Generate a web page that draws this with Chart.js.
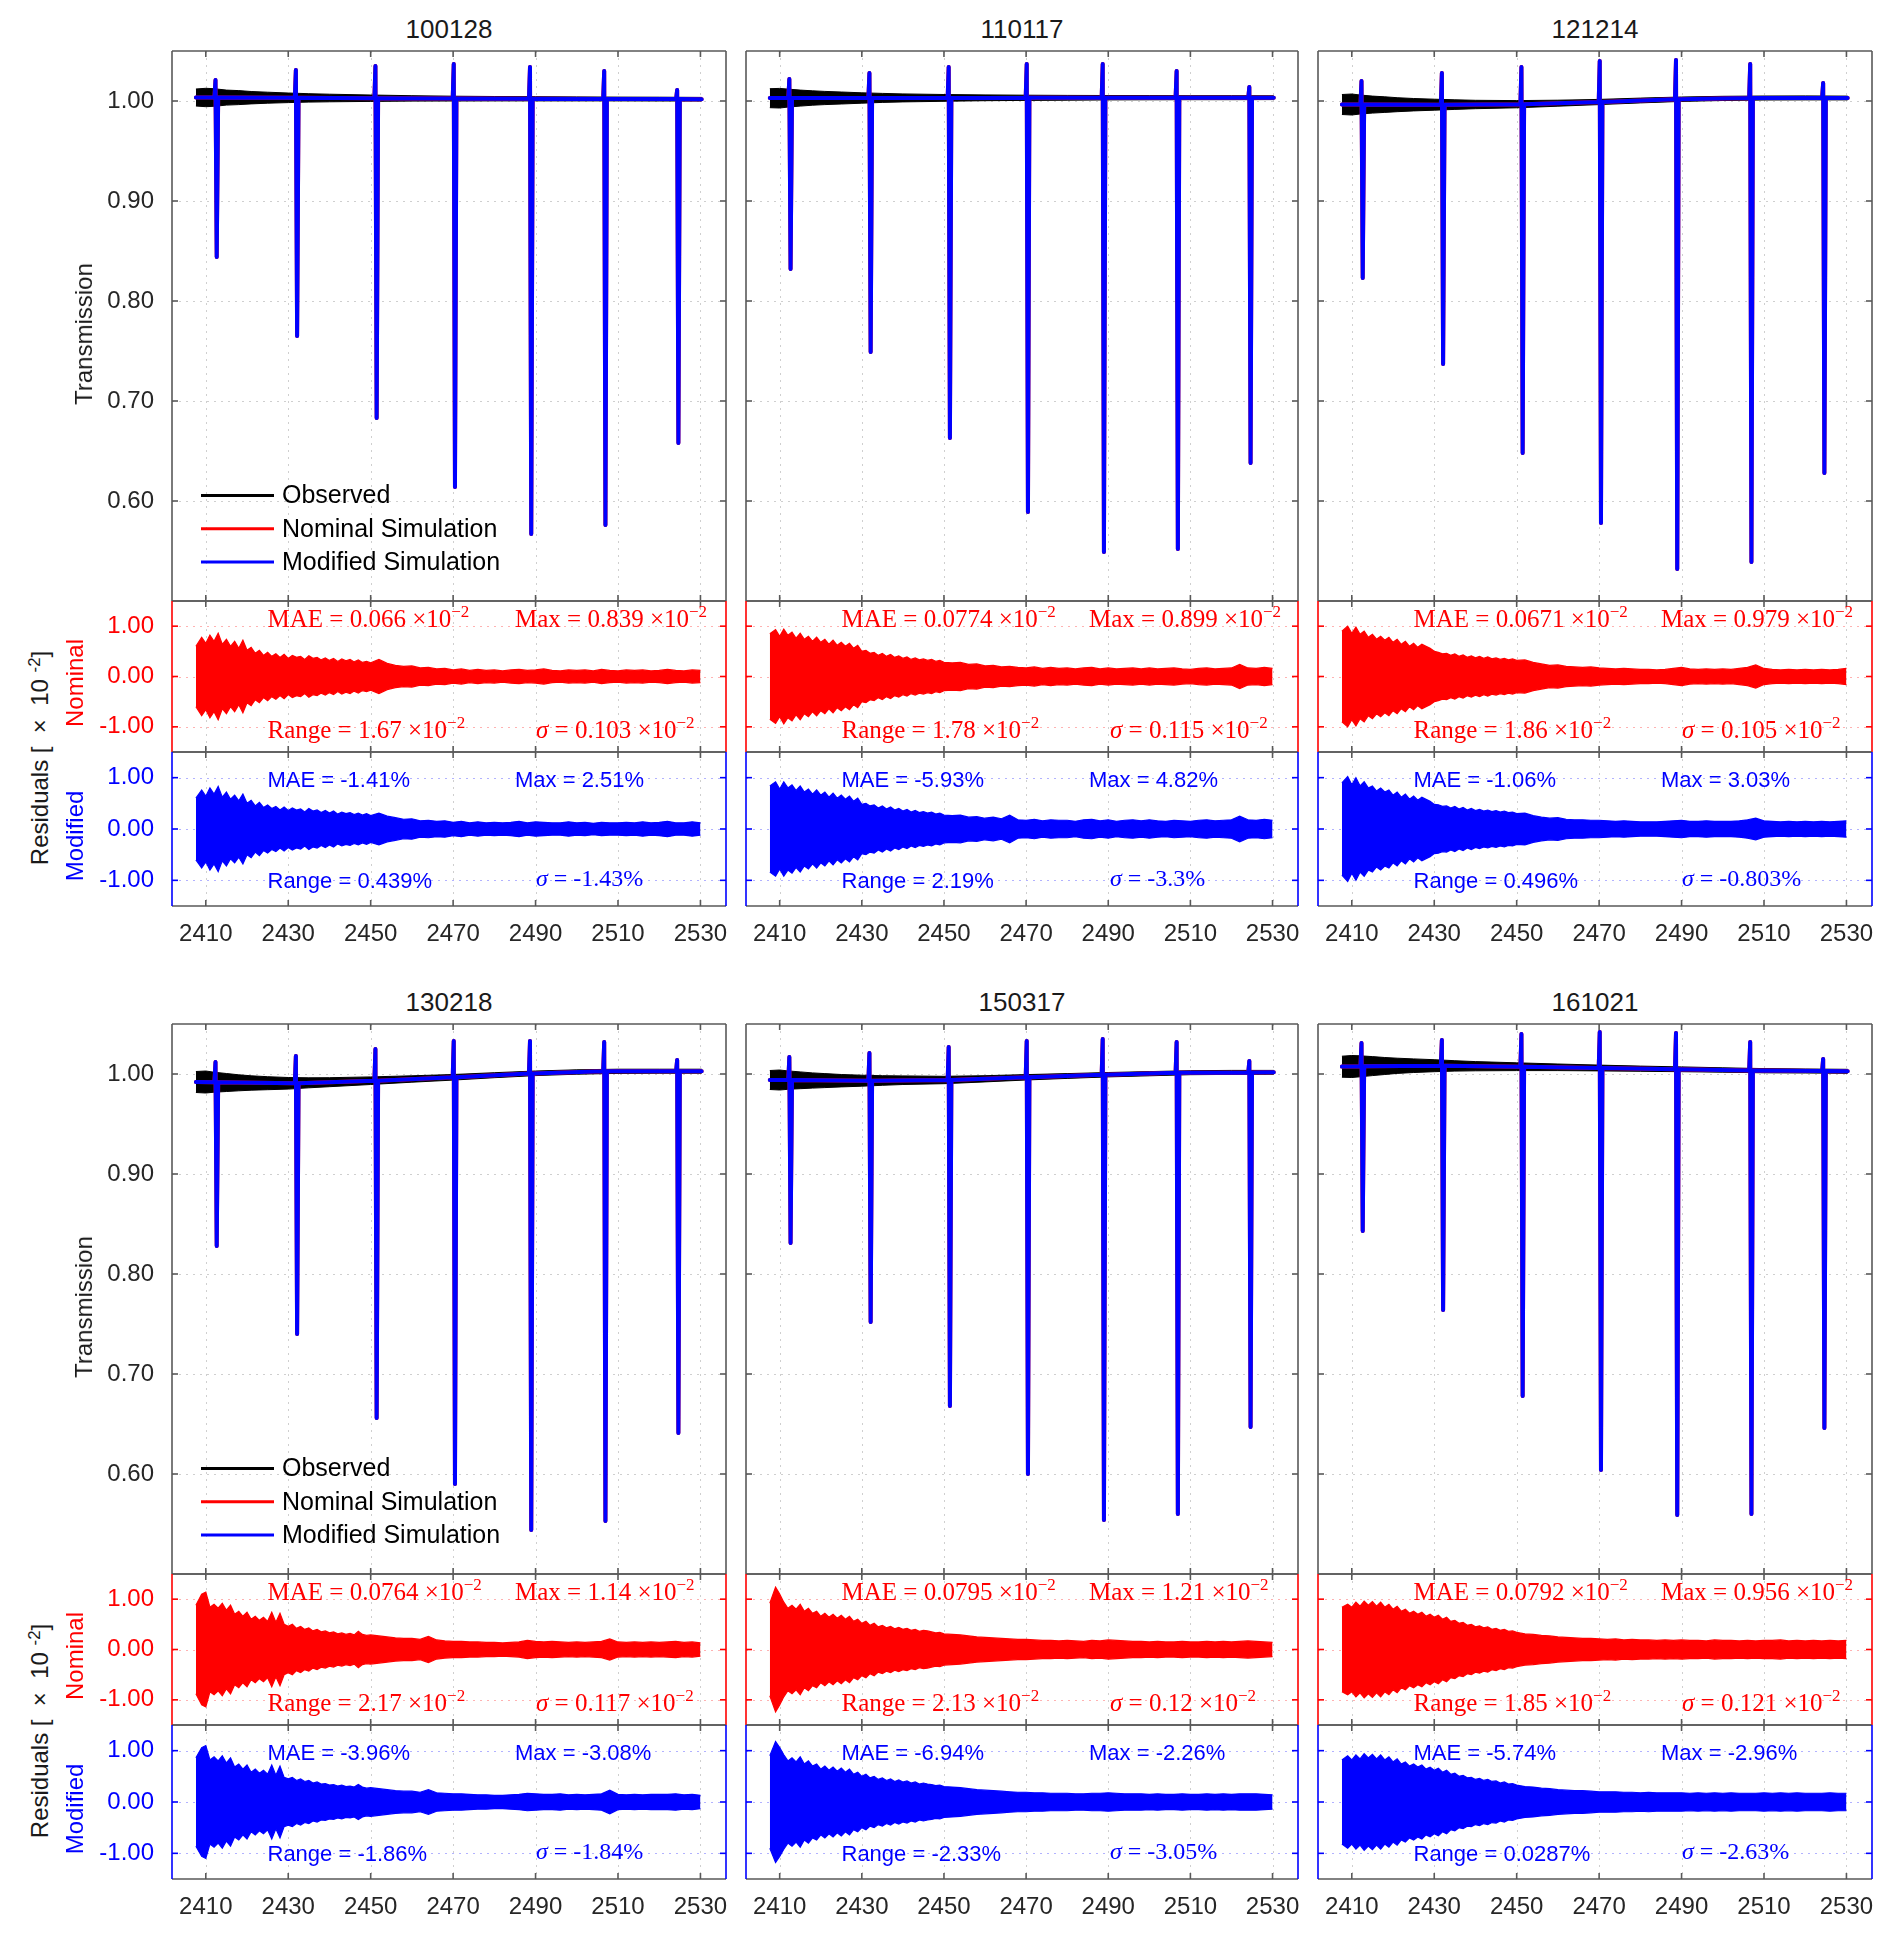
<!DOCTYPE html>
<html>
<head>
<meta charset="utf-8">
<script src="https://cdn.jsdelivr.net/npm/chart.js@4.4.1/dist/chart.umd.min.js"></script>
<style>
  html, body { margin: 0; padding: 0; background: #fff; }
  body { width: 1892px; height: 1933px; position: relative; overflow: hidden; font-family: "Liberation Sans", Arial, sans-serif; }
  canvas { position: absolute; }
  .lbl { position: absolute; white-space: pre; line-height: 1; color: #1a1a1a; transform: translate(-50%, -50%); }
  .lbl sup { font-size: 70%; vertical-align: 0.5em; line-height: 0; }
</style>
</head>
<body>
<script>
// ---- data ----
const panelIds = ['100128', '110117', '121214', '130218', '150317', '161021'];
const xTicks = [2410, 2430, 2450, 2470, 2490, 2510, 2530];
const transTicks = [0.6, 0.7, 0.8, 0.9, 1.0];
const resTicks = [-1, 0, 1];
const legendOrder = ['Observed', 'Nominal Simulation', 'Modified Simulation'];

// absorption line centres (same in every panel)
const lineX = [2412.7, 2432.2, 2451.5, 2470.5, 2489, 2507, 2524.7];
const simKnotX = [2407.6, ...lineX, 2530.3];

// observed band sampling
const obsX = [2407.6, 2410, 2412, 2415, 2418, 2421, 2425, 2430, 2435, 2440, 2450, 2460, 2470, 2480, 2490, 2500, 2510, 2520, 2530.3];

// residual sampling: 1 unit up to 2450, 2 units after
const resX = [2407.6,
  2409, 2410, 2411, 2412, 2413, 2414, 2415, 2416, 2417, 2418, 2419, 2420, 2421, 2422, 2423, 2424, 2425, 2426, 2427, 2428, 2429,
  2430, 2431, 2432, 2433, 2434, 2435, 2436, 2437, 2438, 2439, 2440, 2441, 2442, 2443, 2444, 2445, 2446, 2447, 2448, 2449, 2450,
  2452, 2454, 2456, 2458, 2460, 2462, 2464, 2466, 2468, 2470, 2472, 2474, 2476, 2478, 2480, 2482, 2484, 2486, 2488, 2490,
  2492, 2494, 2496, 2498, 2500, 2502, 2504, 2506, 2508, 2510, 2512, 2514, 2516, 2518, 2520, 2522, 2524, 2526, 2528, 2530];

// 100128
const obsMid100128 = [1.0035, 1.0035, 1.0035, 1.0034, 1.0034, 1.0033, 1.0033, 1.0032, 1.0031, 1.003, 1.0028, 1.0026, 1.0024, 1.0023, 1.0022, 1.0021, 1.002, 1.0019, 1.0018];
const obsHalf100128 = [0.0085, 0.0092, 0.0088, 0.0075, 0.007, 0.0062, 0.0055, 0.0048, 0.0042, 0.0038, 0.0032, 0.0027, 0.0024, 0.0022, 0.0021, 0.002, 0.0019, 0.0019, 0.0018];
const simBase100128 = [1.0034, 1.0034, 1.0032, 1.0028, 1.0024, 1.0022, 1.002, 1.0019, 1.0018];
const lineTop100128 = [1.021, 1.031, 1.035, 1.037, 1.034, 1.030, 1.011];
const lineBot100128 = [0.844, 0.765, 0.683, 0.614, 0.567, 0.576, 0.658];
const nomRes100128 = [0.60,
  0.78, 0.66, 0.82, 0.70, 0.86, 0.64, 0.74, 0.60, 0.70, 0.56, 0.72, 0.52, 0.58, 0.46, 0.52, 0.42, 0.48, 0.40, 0.45, 0.38, 0.44,
  0.36, 0.42, 0.38, 0.40, 0.34, 0.41, 0.36, 0.38, 0.33, 0.37, 0.32, 0.36, 0.30, 0.35, 0.31, 0.34, 0.29, 0.33, 0.28, 0.30, 0.27,
  0.34, 0.26, 0.22, 0.20, 0.21, 0.17, 0.18, 0.15, 0.16, 0.13, 0.15, 0.12, 0.14, 0.12, 0.13, 0.11, 0.13, 0.14, 0.12, 0.13,
  0.15, 0.12, 0.11, 0.13, 0.12, 0.13, 0.11, 0.14, 0.12, 0.11, 0.13, 0.12, 0.13, 0.11, 0.12, 0.14, 0.12, 0.11, 0.13, 0.12];
const modRes100128 = [0.60,
  0.76, 0.64, 0.80, 0.68, 0.83, 0.62, 0.72, 0.58, 0.66, 0.55, 0.68, 0.50, 0.56, 0.45, 0.52, 0.42, 0.47, 0.40, 0.44, 0.37, 0.43,
  0.36, 0.41, 0.37, 0.39, 0.33, 0.40, 0.35, 0.37, 0.32, 0.36, 0.31, 0.35, 0.29, 0.33, 0.30, 0.32, 0.28, 0.31, 0.27, 0.30, 0.26,
  0.31, 0.25, 0.22, 0.19, 0.20, 0.16, 0.17, 0.15, 0.16, 0.13, 0.15, 0.12, 0.14, 0.12, 0.13, 0.12, 0.13, 0.15, 0.12, 0.14,
  0.13, 0.12, 0.12, 0.14, 0.12, 0.13, 0.11, 0.13, 0.12, 0.12, 0.13, 0.12, 0.14, 0.12, 0.13, 0.15, 0.12, 0.12, 0.14, 0.12];
const nomStats100128 = ['0.066', '0.839', '1.67', '0.103'];
const modStats100128 = ['-1.41%', '2.51%', '0.439%', '-1.43%'];

// 110117
const obsMid110117 = [1.0028, 1.0028, 1.0029, 1.0029, 1.003, 1.003, 1.003, 1.003, 1.0031, 1.0031, 1.0031, 1.0032, 1.0032, 1.0032, 1.0033, 1.0033, 1.0033, 1.0033, 1.0033];
const obsHalf110117 = [0.0095, 0.0098, 0.009, 0.008, 0.0072, 0.0066, 0.006, 0.0052, 0.0045, 0.004, 0.0034, 0.0029, 0.0026, 0.0024, 0.0022, 0.0021, 0.002, 0.002, 0.0019];
const simBase110117 = [1.0029, 1.0029, 1.003, 1.0031, 1.0032, 1.0033, 1.0033, 1.0033, 1.0033];
const lineTop110117 = [1.022, 1.028, 1.034, 1.037, 1.037, 1.030, 1.014];
const lineBot110117 = [0.832, 0.749, 0.663, 0.589, 0.549, 0.552, 0.638];
const nomRes110117 = [0.85,
  0.93, 0.80, 0.94, 0.82, 0.88, 0.76, 0.86, 0.74, 0.80, 0.70, 0.78, 0.68, 0.74, 0.64, 0.72, 0.62, 0.68, 0.60, 0.66, 0.56, 0.62,
  0.50, 0.52, 0.46, 0.48, 0.42, 0.46, 0.40, 0.44, 0.38, 0.41, 0.36, 0.39, 0.34, 0.37, 0.33, 0.35, 0.32, 0.34, 0.30, 0.32, 0.28,
  0.27, 0.28, 0.24, 0.25, 0.21, 0.22, 0.19, 0.20, 0.18, 0.17, 0.19, 0.16, 0.18, 0.16, 0.17, 0.15, 0.17, 0.18, 0.15, 0.17,
  0.15, 0.16, 0.17, 0.15, 0.17, 0.15, 0.16, 0.17, 0.15, 0.14, 0.16, 0.17, 0.15, 0.16, 0.17, 0.24, 0.17, 0.16, 0.18, 0.16];
const modRes110117 = [0.84,
  0.92, 0.78, 0.92, 0.80, 0.86, 0.75, 0.84, 0.72, 0.78, 0.68, 0.76, 0.66, 0.72, 0.62, 0.70, 0.60, 0.66, 0.58, 0.64, 0.54, 0.60,
  0.48, 0.50, 0.45, 0.47, 0.41, 0.45, 0.39, 0.43, 0.37, 0.40, 0.35, 0.38, 0.33, 0.36, 0.32, 0.34, 0.31, 0.33, 0.29, 0.31, 0.27,
  0.26, 0.27, 0.23, 0.24, 0.21, 0.23, 0.20, 0.27, 0.18, 0.17, 0.19, 0.16, 0.18, 0.17, 0.17, 0.15, 0.18, 0.19, 0.16, 0.18,
  0.15, 0.17, 0.18, 0.16, 0.18, 0.16, 0.15, 0.17, 0.16, 0.15, 0.17, 0.18, 0.16, 0.17, 0.18, 0.25, 0.18, 0.17, 0.19, 0.17];
const nomStats110117 = ['0.0774', '0.899', '1.78', '0.115'];
const modStats110117 = ['-5.93%', '4.82%', '2.19%', '-3.3%'];

// 121214
const obsMid121214 = [0.9965, 0.9965, 0.9965, 0.9964, 0.9964, 0.9963, 0.9963, 0.9963, 0.9964, 0.9965, 0.9968, 0.9978, 0.999, 1.0005, 1.0018, 1.0026, 1.003, 1.0031, 1.003];
const obsHalf121214 = [0.01, 0.0105, 0.0095, 0.0085, 0.0078, 0.007, 0.0062, 0.0055, 0.0048, 0.0042, 0.0036, 0.003, 0.0026, 0.0024, 0.0022, 0.0021, 0.002, 0.002, 0.0019];
const simBase121214 = [0.9966, 0.9965, 0.9963, 0.9968, 0.999, 1.0017, 1.003, 1.0031, 1.003];
const lineTop121214 = [1.020, 1.028, 1.034, 1.040, 1.041, 1.037, 1.018];
const lineBot121214 = [0.823, 0.737, 0.648, 0.578, 0.532, 0.539, 0.628];
const nomRes121214 = [0.90,
  1.00, 0.86, 0.98, 0.84, 0.90, 0.78, 0.84, 0.74, 0.80, 0.72, 0.78, 0.68, 0.74, 0.64, 0.70, 0.60, 0.66, 0.58, 0.64, 0.60, 0.56,
  0.50, 0.48, 0.45, 0.46, 0.42, 0.45, 0.40, 0.43, 0.38, 0.41, 0.37, 0.40, 0.36, 0.39, 0.35, 0.37, 0.34, 0.36, 0.33, 0.35, 0.32,
  0.33, 0.28, 0.25, 0.22, 0.23, 0.20, 0.19, 0.18, 0.19, 0.17, 0.16, 0.15, 0.16, 0.15, 0.14, 0.14, 0.13, 0.14, 0.16, 0.18,
  0.15, 0.14, 0.15, 0.14, 0.15, 0.14, 0.16, 0.18, 0.23, 0.16, 0.14, 0.13, 0.14, 0.13, 0.14, 0.13, 0.14, 0.13, 0.14, 0.16];
const modRes121214 = [0.90,
  1.02, 0.86, 1.00, 0.84, 0.92, 0.80, 0.84, 0.74, 0.80, 0.72, 0.76, 0.66, 0.72, 0.62, 0.68, 0.58, 0.64, 0.56, 0.62, 0.58, 0.54,
  0.48, 0.47, 0.44, 0.45, 0.41, 0.44, 0.39, 0.42, 0.37, 0.40, 0.36, 0.38, 0.35, 0.37, 0.34, 0.36, 0.33, 0.35, 0.32, 0.33, 0.30,
  0.31, 0.26, 0.23, 0.21, 0.22, 0.19, 0.18, 0.18, 0.17, 0.17, 0.16, 0.15, 0.16, 0.15, 0.14, 0.14, 0.14, 0.15, 0.16, 0.17,
  0.15, 0.15, 0.16, 0.15, 0.15, 0.15, 0.16, 0.18, 0.21, 0.16, 0.15, 0.14, 0.15, 0.14, 0.15, 0.14, 0.15, 0.14, 0.15, 0.16];
const nomStats121214 = ['0.0671', '0.979', '1.86', '0.105'];
const modStats121214 = ['-1.06%', '3.03%', '0.496%', '-0.803%'];

// 130218
const obsMid130218 = [0.992, 0.992, 0.9918, 0.9915, 0.9912, 0.991, 0.9908, 0.9907, 0.9912, 0.9918, 0.9933, 0.995, 0.9967, 0.9988, 1.0007, 1.002, 1.0027, 1.0028, 1.0028];
const obsHalf130218 = [0.0105, 0.011, 0.01, 0.009, 0.008, 0.0072, 0.0065, 0.0058, 0.005, 0.0045, 0.0038, 0.0032, 0.0028, 0.0025, 0.0023, 0.0022, 0.0021, 0.002, 0.002];
const simBase130218 = [0.992, 0.9918, 0.9907, 0.9933, 0.9967, 1.0006, 1.0027, 1.0028, 1.0028];
const lineTop130218 = [1.012, 1.018, 1.025, 1.033, 1.033, 1.032, 1.014];
const lineBot130218 = [0.828, 0.740, 0.656, 0.590, 0.544, 0.553, 0.641];
const nomRes130218 = [0.88,
  1.10, 1.14, 0.84, 0.90, 0.82, 0.92, 0.78, 0.88, 0.70, 0.76, 0.66, 0.74, 0.60, 0.66, 0.58, 0.64, 0.56, 0.74, 0.54, 0.72, 0.50,
  0.46, 0.50, 0.42, 0.46, 0.40, 0.43, 0.37, 0.40, 0.35, 0.37, 0.33, 0.35, 0.31, 0.33, 0.30, 0.32, 0.29, 0.36, 0.30, 0.28, 0.29,
  0.27, 0.25, 0.23, 0.22, 0.22, 0.20, 0.26, 0.19, 0.17, 0.16, 0.16, 0.15, 0.15, 0.14, 0.14, 0.13, 0.14, 0.15, 0.18, 0.16,
  0.15, 0.16, 0.15, 0.14, 0.15, 0.14, 0.15, 0.16, 0.21, 0.15, 0.14, 0.15, 0.14, 0.15, 0.14, 0.15, 0.16, 0.14, 0.15, 0.13];
const modRes130218 = [0.86,
  1.06, 1.10, 0.82, 0.88, 0.80, 0.90, 0.76, 0.86, 0.68, 0.74, 0.64, 0.72, 0.58, 0.64, 0.56, 0.62, 0.54, 0.72, 0.52, 0.70, 0.48,
  0.45, 0.48, 0.42, 0.45, 0.40, 0.42, 0.37, 0.39, 0.35, 0.36, 0.33, 0.34, 0.31, 0.33, 0.30, 0.31, 0.29, 0.34, 0.29, 0.27, 0.28,
  0.26, 0.24, 0.22, 0.21, 0.21, 0.19, 0.24, 0.18, 0.17, 0.16, 0.16, 0.15, 0.14, 0.14, 0.13, 0.13, 0.14, 0.15, 0.17, 0.16,
  0.15, 0.15, 0.16, 0.14, 0.15, 0.14, 0.15, 0.16, 0.23, 0.15, 0.14, 0.15, 0.14, 0.15, 0.15, 0.15, 0.16, 0.14, 0.15, 0.13];
const nomStats130218 = ['0.0764', '1.14', '2.17', '0.117'];
const modStats130218 = ['-3.96%', '-3.08%', '-1.86%', '-1.84%'];

// 150317
const obsMid150317 = [0.994, 0.994, 0.9939, 0.9937, 0.9935, 0.9934, 0.9933, 0.9933, 0.9935, 0.9938, 0.994, 0.9952, 0.9967, 0.998, 0.9993, 1.0003, 1.0013, 1.0016, 1.0017];
const obsHalf150317 = [0.0095, 0.01, 0.0092, 0.0084, 0.0076, 0.007, 0.0062, 0.0055, 0.0048, 0.0043, 0.0037, 0.0031, 0.0027, 0.0024, 0.0022, 0.0021, 0.002, 0.002, 0.0019];
const simBase150317 = [0.994, 0.9939, 0.9933, 0.994, 0.9967, 0.9993, 1.0013, 1.0016, 1.0017];
const lineTop150317 = [1.017, 1.021, 1.027, 1.033, 1.035, 1.032, 1.013];
const lineBot150317 = [0.831, 0.752, 0.668, 0.600, 0.554, 0.560, 0.647];
const nomRes150317 = [0.92,
  1.24, 1.10, 0.94, 0.82, 0.88, 0.80, 0.90, 0.76, 0.82, 0.72, 0.76, 0.66, 0.72, 0.64, 0.70, 0.62, 0.68, 0.60, 0.66, 0.56, 0.60,
  0.52, 0.56, 0.48, 0.52, 0.45, 0.48, 0.43, 0.46, 0.41, 0.44, 0.40, 0.42, 0.38, 0.40, 0.36, 0.38, 0.37, 0.35, 0.33, 0.34, 0.31,
  0.30, 0.29, 0.27, 0.25, 0.24, 0.23, 0.22, 0.21, 0.20, 0.20, 0.19, 0.18, 0.18, 0.17, 0.18, 0.17, 0.16, 0.18, 0.17, 0.19,
  0.18, 0.17, 0.16, 0.16, 0.15, 0.16, 0.15, 0.15, 0.16, 0.15, 0.15, 0.16, 0.15, 0.16, 0.15, 0.16, 0.17, 0.16, 0.15, 0.14];
const modRes150317 = [0.90,
  1.18, 1.06, 0.92, 0.80, 0.86, 0.78, 0.88, 0.74, 0.80, 0.70, 0.74, 0.64, 0.70, 0.62, 0.68, 0.60, 0.66, 0.58, 0.64, 0.54, 0.58,
  0.50, 0.54, 0.47, 0.50, 0.44, 0.47, 0.42, 0.45, 0.40, 0.43, 0.39, 0.41, 0.37, 0.39, 0.35, 0.37, 0.35, 0.34, 0.32, 0.33, 0.30,
  0.29, 0.28, 0.26, 0.24, 0.23, 0.22, 0.21, 0.20, 0.19, 0.19, 0.18, 0.18, 0.17, 0.17, 0.17, 0.16, 0.16, 0.17, 0.17, 0.18,
  0.17, 0.16, 0.16, 0.16, 0.15, 0.16, 0.15, 0.15, 0.16, 0.15, 0.15, 0.16, 0.15, 0.16, 0.15, 0.16, 0.16, 0.16, 0.15, 0.14];
const nomStats150317 = ['0.0795', '1.21', '2.13', '0.12'];
const modStats150317 = ['-6.94%', '-2.26%', '-2.33%', '-3.05%'];

// 161021
const obsMid161021 = [1.0073, 1.0075, 1.0077, 1.0079, 1.008, 1.0082, 1.0083, 1.0083, 1.0081, 1.0078, 1.0073, 1.0067, 1.006, 1.0053, 1.0047, 1.004, 1.0033, 1.003, 1.0027];
const obsHalf161021 = [0.0105, 0.011, 0.0105, 0.0095, 0.0085, 0.0076, 0.0068, 0.006, 0.0052, 0.0046, 0.0039, 0.0033, 0.0029, 0.0026, 0.0024, 0.0022, 0.0021, 0.002, 0.002];
const simBase161021 = [1.0074, 1.0077, 1.0083, 1.0073, 1.006, 1.0047, 1.0034, 1.003, 1.0027];
const lineTop161021 = [1.031, 1.034, 1.040, 1.042, 1.041, 1.032, 1.015];
const lineBot161021 = [0.843, 0.764, 0.678, 0.604, 0.559, 0.560, 0.646];
const nomRes161021 = [0.84,
  0.90, 0.84, 0.94, 0.86, 0.96, 0.88, 0.95, 0.86, 0.94, 0.84, 0.90, 0.80, 0.86, 0.76, 0.80, 0.72, 0.76, 0.70, 0.74, 0.66, 0.70,
  0.64, 0.68, 0.60, 0.64, 0.56, 0.58, 0.52, 0.54, 0.48, 0.50, 0.45, 0.47, 0.43, 0.45, 0.40, 0.42, 0.38, 0.40, 0.36, 0.37, 0.34,
  0.31, 0.30, 0.28, 0.27, 0.25, 0.24, 0.23, 0.22, 0.22, 0.21, 0.20, 0.21, 0.19, 0.20, 0.19, 0.19, 0.18, 0.19, 0.18, 0.19,
  0.18, 0.18, 0.17, 0.19, 0.18, 0.18, 0.17, 0.18, 0.17, 0.18, 0.18, 0.19, 0.17, 0.18, 0.17, 0.18, 0.17, 0.18, 0.17, 0.18];
const modRes161021 = [0.82,
  0.90, 0.82, 0.92, 0.84, 0.94, 0.86, 0.93, 0.84, 0.92, 0.82, 0.88, 0.78, 0.84, 0.74, 0.78, 0.70, 0.74, 0.68, 0.72, 0.64, 0.68,
  0.62, 0.66, 0.58, 0.62, 0.54, 0.56, 0.50, 0.52, 0.47, 0.48, 0.44, 0.46, 0.42, 0.44, 0.40, 0.41, 0.37, 0.39, 0.35, 0.36, 0.33,
  0.30, 0.29, 0.27, 0.26, 0.24, 0.23, 0.22, 0.22, 0.21, 0.20, 0.20, 0.20, 0.19, 0.19, 0.18, 0.19, 0.18, 0.18, 0.18, 0.18,
  0.17, 0.18, 0.17, 0.18, 0.17, 0.18, 0.17, 0.17, 0.17, 0.18, 0.17, 0.18, 0.17, 0.18, 0.17, 0.17, 0.17, 0.18, 0.17, 0.17];
const nomStats161021 = ['0.0792', '0.956', '1.85', '0.121'];
const modStats161021 = ['-5.74%', '-2.96%', '0.0287%', '-2.63%'];

const panels = [
  {id: panelIds[0], obsMid: obsMid100128, obsHalf: obsHalf100128, base: simBase100128, tops: lineTop100128, bots: lineBot100128, nom: nomRes100128, mod: modRes100128, nomStats: nomStats100128, modStats: modStats100128},
  {id: panelIds[1], obsMid: obsMid110117, obsHalf: obsHalf110117, base: simBase110117, tops: lineTop110117, bots: lineBot110117, nom: nomRes110117, mod: modRes110117, nomStats: nomStats110117, modStats: modStats110117},
  {id: panelIds[2], obsMid: obsMid121214, obsHalf: obsHalf121214, base: simBase121214, tops: lineTop121214, bots: lineBot121214, nom: nomRes121214, mod: modRes121214, nomStats: nomStats121214, modStats: modStats121214},
  {id: panelIds[3], obsMid: obsMid130218, obsHalf: obsHalf130218, base: simBase130218, tops: lineTop130218, bots: lineBot130218, nom: nomRes130218, mod: modRes130218, nomStats: nomStats130218, modStats: modStats130218},
  {id: panelIds[4], obsMid: obsMid150317, obsHalf: obsHalf150317, base: simBase150317, tops: lineTop150317, bots: lineBot150317, nom: nomRes150317, mod: modRes150317, nomStats: nomStats150317, modStats: modStats150317},
  {id: panelIds[5], obsMid: obsMid161021, obsHalf: obsHalf161021, base: simBase161021, tops: lineTop161021, bots: lineBot161021, nom: nomRes161021, mod: modRes161021, nomStats: nomStats161021, modStats: modStats161021}
];

// ---- layout ----
const X_MIN = 2401.8, X_MAX = 2536.2;
const COL_LEFT = [172, 746, 1318];
const COL_W = [554, 552, 554];
const ROW_STEP = 973;
const AXW = 80, PAD = 4, RPAD = 14, XLAB = 50;
const RED = '#ff0000', BLUE = '#0000ff', INK = '#262626', EDGE = '#595959';
const SANS = '"Liberation Sans", Arial, sans-serif';
const SERIF = '"Liberation Serif", "Times New Roman", serif';

function place(w, h, left, top) {
  const c = document.createElement('canvas');
  c.width = w; c.height = h;
  c.style.left = left + 'px'; c.style.top = top + 'px';
  c.style.width = w + 'px'; c.style.height = h + 'px';
  document.body.appendChild(c);
  return c;
}

function label(html, left, top, style) {
  const d = document.createElement('div');
  d.className = 'lbl';
  d.innerHTML = html;
  d.style.left = left + 'px';
  d.style.top = top + 'px';
  Object.assign(d.style, style || {});
  document.body.appendChild(d);
}

function seg(ctx, x1, y1, x2, y2) {
  ctx.beginPath(); ctx.moveTo(x1, y1); ctx.lineTo(x2, y2); ctx.stroke();
}

// grid under the data, box + inward ticks over it
const framePlugin = {
  id: 'frame',
  beforeDatasetsDraw(chart, args, o) {
    const {ctx, chartArea: a, scales: {x, y}} = chart;
    ctx.save();
    ctx.lineWidth = 1;
    ctx.setLineDash([2, 5]);
    ctx.strokeStyle = '#cfcfcf';
    xTicks.forEach(v => { const px = Math.round(x.getPixelForValue(v)) + 0.5; seg(ctx, px, a.top, px, a.bottom); });
    ctx.strokeStyle = o.gridY;
    o.yTicks.forEach(v => { const py = Math.round(y.getPixelForValue(v)) + 0.5; seg(ctx, a.left, py, a.right, py); });
    ctx.restore();
  },
  afterDatasetsDraw(chart, args, o) {
    const {ctx, chartArea: a, scales: {x, y}} = chart;
    const tl = 6;
    ctx.save();
    ctx.lineWidth = 1.6;
    ctx.strokeStyle = EDGE;
    xTicks.forEach(v => {
      const px = x.getPixelForValue(v);
      seg(ctx, px, a.top, px, a.top + tl);
      seg(ctx, px, a.bottom, px, a.bottom - tl);
    });
    seg(ctx, a.left, a.top, a.right, a.top);
    seg(ctx, a.left, a.bottom, a.right, a.bottom);
    ctx.strokeStyle = o.edgeY;
    o.yTicks.forEach(v => {
      const py = y.getPixelForValue(v);
      seg(ctx, a.left, py, a.left + tl, py);
      seg(ctx, a.right, py, a.right - tl, py);
    });
    seg(ctx, a.left, a.top, a.left, a.bottom);
    seg(ctx, a.right, a.top, a.right, a.bottom);
    ctx.restore();
  }
};

function runs(ctx, x, y, list) {
  list.forEach(([t, font, dy]) => {
    ctx.font = font;
    ctx.fillText(t, x, y + (dy || 0));
    x += ctx.measureText(t).width;
  });
}

// MAE / Max / Range / sigma annotations
const statsPlugin = {
  id: 'stats',
  afterDatasetsDraw(chart, args, o) {
    if (!o || !o.values) return;
    const {ctx, chartArea: a} = chart;
    const v = o.values;
    const f = '25px ' + SERIF, fi = 'italic 25px ' + SERIF, fs = '17px ' + SERIF, fsans = '22px ' + SANS;
    const fm = '24px ' + SERIF, fmi = 'italic 24px ' + SERIF;
    ctx.save();
    ctx.fillStyle = o.color;
    ctx.textBaseline = 'alphabetic';
    ctx.textAlign = 'left';
    if (o.kind === 'nom') {
      runs(ctx, a.left + 95.5, a.top + 26, [['MAE = ' + v[0] + ' \u00d710', f], ['\u22122', fs, -10]]);
      runs(ctx, a.left + 343, a.top + 26, [['Max = ' + v[1] + ' \u00d710', f], ['\u22122', fs, -10]]);
      runs(ctx, a.left + 95.5, a.top + 137, [['Range = ' + v[2] + ' \u00d710', f], ['\u22122', fs, -10]]);
      runs(ctx, a.left + 364, a.top + 137, [['\u03c3', fi], [' = ' + v[3] + ' \u00d710', f], ['\u22122', fs, -10]]);
    } else {
      runs(ctx, a.left + 95.5, a.top + 35, [['MAE = ' + v[0], fsans]]);
      runs(ctx, a.left + 343, a.top + 35, [['Max = ' + v[1], fsans]]);
      runs(ctx, a.left + 95.5, a.top + 136, [['Range = ' + v[2], fsans]]);
      runs(ctx, a.left + 364, a.top + 133.5, [['\u03c3', fmi], [' = ' + v[3], fm]]);
    }
    ctx.restore();
  }
};

// legend drawn inside the transmission axes
const keyPlugin = {
  id: 'key',
  afterDatasetsDraw(chart, args, o) {
    if (!o || !o.show) return;
    const {ctx, chartArea: a} = chart;
    ctx.save();
    ctx.font = '25px ' + SANS;
    ctx.textBaseline = 'middle';
    ctx.textAlign = 'left';
    legendOrder.forEach((name, i) => {
      const ds = chart.data.datasets.find(d => d.label === name);
      const y = a.top + 444.5 + i * 33.2;
      ctx.strokeStyle = ds.borderColor;
      ctx.lineWidth = 3;
      seg(ctx, a.left + 29, y, a.left + 102, y);
      ctx.fillStyle = '#000';
      ctx.fillText(name, a.left + 110, y + 1);
    });
    ctx.restore();
  }
};

function makeChart(box, cfg) {
  const cw = AXW + box.w + RPAD;
  const ch = box.h + 2 * PAD + (cfg.showX ? XLAB : 0);
  const canvas = place(cw, ch, box.left - AXW, box.top - PAD);
  return new Chart(canvas, {
    type: 'line',
    data: {datasets: cfg.datasets},
    options: {
      responsive: false,
      animation: false,
      events: [],
      layout: {padding: {left: 0, right: RPAD, top: PAD, bottom: PAD}},
      elements: {point: {radius: 0}, line: {tension: 0}},
      scales: {
        x: {
          type: 'linear', min: X_MIN, max: X_MAX, display: !!cfg.showX,
          afterBuildTicks: s => { s.ticks = xTicks.map(v => ({value: v})); },
          afterFit: s => { s.height = cfg.showX ? XLAB : 0; s.paddingLeft = 0; s.paddingRight = 0; },
          grid: {display: false, drawTicks: false},
          border: {display: false},
          ticks: {autoSkip: false, maxRotation: 0, minRotation: 0, padding: 14, color: INK,
            font: {family: SANS, size: 24}, callback: v => String(v)}
        },
        y: {
          type: 'linear', min: cfg.yMin, max: cfg.yMax,
          afterBuildTicks: s => { s.ticks = cfg.yTicks.map(v => ({value: v})); },
          afterFit: s => { s.width = AXW; s.paddingTop = 0; s.paddingBottom = 0; },
          grid: {display: false, drawTicks: false},
          border: {display: false},
          ticks: {display: cfg.yLabels, padding: 18, color: cfg.yColor, font: {family: SANS, size: 24}, callback: v => v.toFixed(2)}
        }
      },
      plugins: {
        legend: {display: false},
        tooltip: {enabled: false},
        frame: {yTicks: cfg.yTicks, gridY: cfg.gridY, edgeY: cfg.edgeY},
        stats: cfg.stats || {},
        key: {show: !!cfg.key}
      }
    },
    plugins: [framePlugin, statsPlugin, keyPlugin]
  });
}

function simPoints(p) {
  const pts = [{x: simKnotX[0], y: p.base[0]}];
  lineX.forEach((L, i) => {
    const b = p.base[i + 1];
    pts.push({x: L - 0.6, y: b}, {x: L - 0.35, y: p.tops[i]}, {x: L - 0.05, y: p.bots[i]}, {x: L + 0.3, y: b});
  });
  pts.push({x: simKnotX[simKnotX.length - 1], y: p.base[p.base.length - 1]});
  return pts;
}

function bandSets(xs, amp, color) {
  return [
    {label: 'upper', data: xs.map((x, i) => ({x, y: amp[i]})), borderColor: color, borderWidth: 1.2, fill: false},
    {label: 'lower', data: xs.map((x, i) => ({x, y: -amp[i]})), borderColor: color, backgroundColor: color, borderWidth: 1.2, fill: '-1'}
  ];
}

panels.forEach((p, k) => {
  const col = k % 3, row = Math.floor(k / 3);
  const L = COL_LEFT[col], W = COL_W[col], off = row * ROW_STEP;
  const yLabels = col === 0;

  const sim = simPoints(p);
  makeChart({left: L, top: 51 + off, w: W, h: 550}, {
    yMin: 0.5, yMax: 1.05, yTicks: transTicks, yColor: INK, gridY: '#cfcfcf', edgeY: EDGE, key: col === 0, yLabels,
    datasets: [
      {label: 'Modified Simulation', data: sim.map(q => ({...q})), borderColor: BLUE, borderWidth: 4,
        borderJoinStyle: 'round', borderCapStyle: 'round', order: 0},
      {label: 'Nominal Simulation', data: sim.map(q => ({...q})), borderColor: RED, borderWidth: 4,
        borderJoinStyle: 'round', borderCapStyle: 'round', order: 1},
      {label: 'Observed', data: obsX.map((x, i) => ({x, y: p.obsMid[i] + p.obsHalf[i]})), borderColor: '#000', borderWidth: 1, order: 2},
      {label: 'Observed lower', data: obsX.map((x, i) => ({x, y: p.obsMid[i] - p.obsHalf[i]})), borderColor: '#000',
        backgroundColor: '#000', borderWidth: 1, fill: '-1', order: 2}
    ]
  });

  makeChart({left: L, top: 601 + off, w: W, h: 151}, {
    yMin: -1.5, yMax: 1.5, yTicks: resTicks, yColor: RED, gridY: 'rgba(255,0,0,0.3)', edgeY: RED, yLabels,
    stats: {kind: 'nom', color: RED, values: p.nomStats},
    datasets: bandSets(resX, p.nom, RED)
  });

  makeChart({left: L, top: 752 + off, w: W, h: 154}, {
    yMin: -1.5, yMax: 1.5, yTicks: resTicks, yColor: BLUE, gridY: 'rgba(0,0,255,0.3)', edgeY: BLUE, showX: true, yLabels,
    stats: {kind: 'mod', color: BLUE, values: p.modStats},
    datasets: bandSets(resX, p.mod, BLUE)
  });

  label(p.id, L + W / 2, 29 + off, {fontSize: '26px'});
  if (col === 0) {
    const rot = 'translate(-50%, -50%) rotate(-90deg)';
    label('Transmission', 83.5, 334 + off, {fontSize: '24px', transform: rot});
    label('Residuals [&nbsp; \u00d7&nbsp; 10 <sup>-2</sup>]', 39.5, 757.5 + off, {fontSize: '24px', transform: rot});
    label('Nominal', 74.5, 682.5 + off, {fontSize: '24px', transform: rot, color: RED});
    label('Modified', 74.5, 836 + off, {fontSize: '24px', transform: rot, color: BLUE});
  }
});
</script>
</body>
</html>
